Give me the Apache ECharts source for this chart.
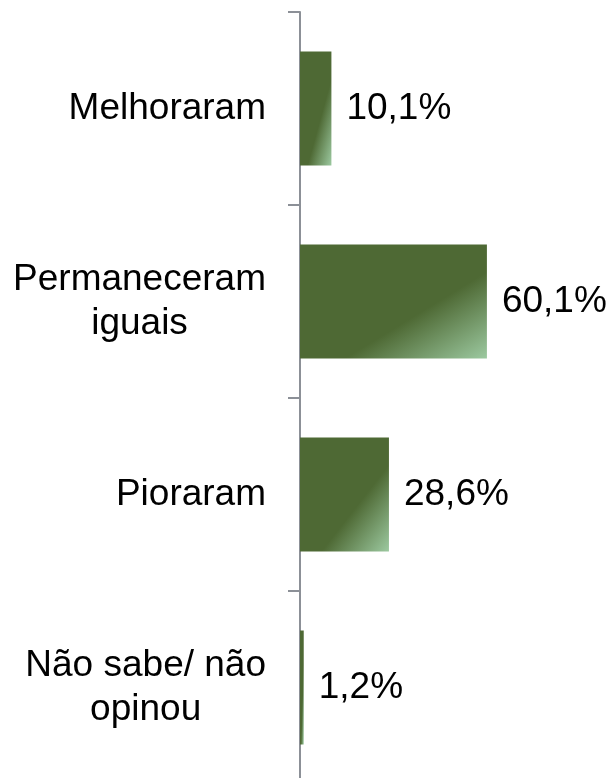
<!DOCTYPE html>
<html>
<head>
<meta charset="utf-8">
<script src="https://cdn.jsdelivr.net/npm/echarts@6/dist/echarts.min.js"></script>
<style>
  html, body { margin: 0; padding: 0; background: #fff; overflow: hidden; }
  /* axis runs a little past the bottom edge of the window */
  #main { width: 612px; height: 784px; }
</style>
</head>
<body>
<div id="main"></div>
<script type="text/javascript">
  var categories = ['Melhoraram', 'Permaneceram\niguais', 'Pioraram', 'Não sabe/ não\nopinou'];
  var values = [10.1, 60.1, 28.6, 1.2];

  var DARK = '#4e6934';
  var LIGHT = '#9cc9a0';
  var BAR_H = 114;

  // office-like diagonal fade, corner to corner of each bar
  function barFill(w, h) {
    var r = w / h;
    return new echarts.graphic.LinearGradient(0, 0, 2 / (1 + r * r), 2 * r * r / (1 + r * r), [
      { offset: 0, color: DARK },
      { offset: 0.62, color: DARK },
      { offset: 1, color: LIGHT }
    ]);
  }

  var chart = echarts.init(document.getElementById('main'));
  var font = 'Liberation Sans, Arial, sans-serif';

  chart.setOption({
    animation: false,
    grid: { left: 300, right: 1, top: 12, bottom: 0, containLabel: false },
    xAxis: {
      type: 'value', min: 0, max: 100, show: false
    },
    yAxis: {
      type: 'category',
      inverse: true,
      data: categories,
      axisLine: { show: true, lineStyle: { color: '#8c9097', width: 2 } },
      axisTick: { show: true, length: 12, lineStyle: { color: '#8c9097', width: 2 } },
      axisLabel: {
        margin: 34,
        align: 'right',
        color: '#000',
        fontFamily: font,
        fontSize: 37,
        lineHeight: 44,
        formatter: function (v) {
          return v.split('\n').map(function (s) { return '{c|' + s + '}'; }).join('\n');
        },
        rich: {
          c: { align: 'center', color: '#000', fontFamily: font, fontSize: 37, lineHeight: 44 }
        }
      }
    },
    series: [{
      type: 'bar',
      data: values,
      barWidth: BAR_H,
      itemStyle: { color: DARK },
      label: {
        show: true,
        position: 'right',
        distance: 15,
        color: '#000',
        fontFamily: font,
        fontSize: 37,
        formatter: function (p) { return p.value.toFixed(1).replace('.', ',') + '%'; }
      }
    }]
  });

  var x0 = chart.convertToPixel({ xAxisIndex: 0 }, 0);
  chart.setOption({
    series: [{
      data: values.map(function (v) {
        var w = Math.max(chart.convertToPixel({ xAxisIndex: 0 }, v) - x0, 1);
        return { value: v, itemStyle: { color: barFill(w, BAR_H) } };
      })
    }]
  });
</script>
</body>
</html>
